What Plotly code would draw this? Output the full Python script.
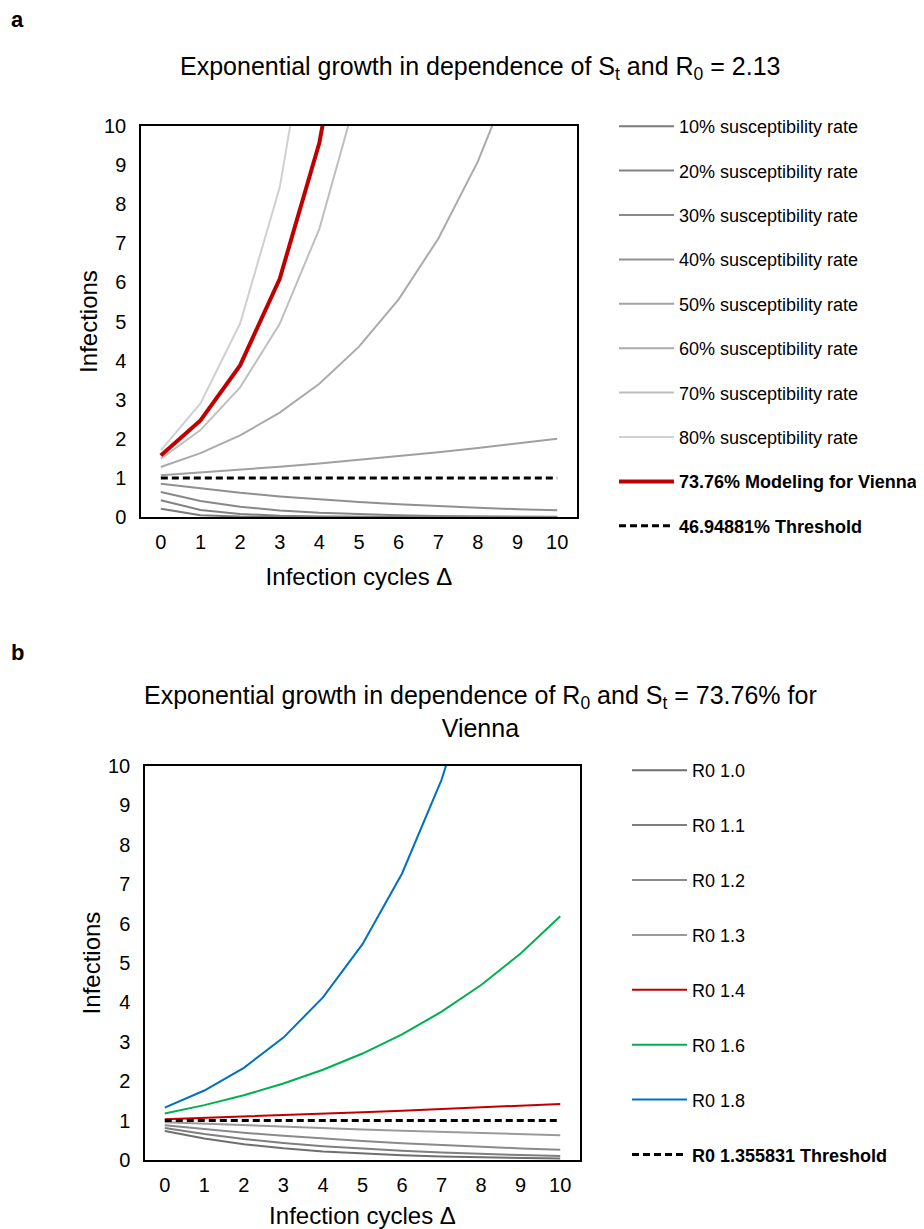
import plotly.graph_objects as go

# ---------------- data ----------------
cycles = [0, 1, 2, 3, 4, 5, 6, 7, 8, 9, 10]

# Panel a: susceptibility rates (R0 = 2.13)
sus_names = ["10% susceptibility rate", "20% susceptibility rate", "30% susceptibility rate",
             "40% susceptibility rate", "50% susceptibility rate", "60% susceptibility rate",
             "70% susceptibility rate", "80% susceptibility rate"]
sus_10 = [0.213, 0.045, 0.010, 0.002, 0.000, 0.000, 0.000, 0.000, 0.000, 0.000, 0.000]
sus_20 = [0.426, 0.181, 0.077, 0.033, 0.014, 0.006, 0.003, 0.001, 0.000, 0.000, 0.000]
sus_30 = [0.639, 0.408, 0.261, 0.167, 0.107, 0.068, 0.043, 0.028, 0.018, 0.011, 0.007]
sus_40 = [0.852, 0.726, 0.618, 0.527, 0.449, 0.382, 0.326, 0.278, 0.236, 0.201, 0.172]
sus_50 = [1.065, 1.134, 1.208, 1.287, 1.370, 1.459, 1.554, 1.655, 1.763, 1.877, 1.999]
sus_60 = [1.278, 1.633, 2.087, 2.668, 3.409, 4.357, 5.568, 7.116, 9.094, 11.62, 14.85]
sus_70 = [1.491, 2.223, 3.315, 4.942, 7.369, 10.99, 16.38, 24.42, 36.41, 54.30, 80.90]
sus_80 = [1.704, 2.904, 4.948, 8.431, 14.37, 24.48, 41.71, 71.08, 121.1, 206.4, 351.7]
vienna_a_name = "<b>73.76% Modeling for Vienna</b>"
vienna_a = [1.571, 2.468, 3.878, 6.093, 9.573, 15.04, 23.63, 37.12, 58.32, 91.63, 144.0]
thresh_a_name = "<b>46.94881% Threshold</b>"
thresh_a = [1, 1, 1, 1, 1, 1, 1, 1, 1, 1, 1]

# Panel b: R0 values (St = 73.76%)
r0_names = ["R0 1.0", "R0 1.1", "R0 1.2", "R0 1.3", "R0 1.4", "R0 1.6", "R0 1.8"]
r0_10 = [0.738, 0.544, 0.401, 0.296, 0.218, 0.161, 0.119, 0.088, 0.065, 0.048, 0.035]
r0_11 = [0.811, 0.658, 0.534, 0.433, 0.352, 0.285, 0.232, 0.188, 0.152, 0.124, 0.100]
r0_12 = [0.885, 0.783, 0.693, 0.614, 0.543, 0.481, 0.426, 0.377, 0.333, 0.295, 0.261]
r0_13 = [0.959, 0.919, 0.882, 0.845, 0.811, 0.777, 0.745, 0.715, 0.685, 0.657, 0.630]
r0_14 = [1.033, 1.066, 1.101, 1.137, 1.174, 1.212, 1.252, 1.293, 1.335, 1.378, 1.423]
r0_16 = [1.180, 1.393, 1.644, 1.940, 2.290, 2.702, 3.189, 3.764, 4.442, 5.243, 6.188]
r0_18 = [1.328, 1.763, 2.340, 3.107, 4.126, 5.478, 7.273, 9.656, 12.82, 17.02, 22.60]
thresh_b_name = "<b>R0 1.355831 Threshold</b>"
thresh_b = [1, 1, 1, 1, 1, 1, 1, 1, 1, 1, 1]

# ---------------- styling ----------------
FONT = "Liberation Sans, Arial, sans-serif"
W, H = 916, 1221  # page body adds an 8px offset
sus_colors = ["#7b7b7b", "#818181", "#888888", "#909090", "#a0a0a0", "#aaaaaa", "#bfbfbf", "#d0d0d0"]
r0_colors = ["#6f6f6f", "#7f7f7f", "#8a8a8a", "#9a9a9a", "#c00000", "#00b050", "#0070c0"]
DASH = "7px,4px"

fig = go.Figure()

sus_series = [sus_10, sus_20, sus_30, sus_40, sus_50, sus_60, sus_70, sus_80]
for i, (nm, ys) in enumerate(zip(sus_names, sus_series)):
    fig.add_trace(go.Scatter(x=cycles, y=ys, name=nm, mode="lines",
                             line=dict(color=sus_colors[i], width=2),
                             legend="legend", legendgroup="a%d" % i,
                             xaxis="x", yaxis="y"))
fig.add_trace(go.Scatter(x=cycles, y=vienna_a, name=vienna_a_name, mode="lines",
                         line=dict(color="#c00000", width=4),
                         legend="legend", legendgroup="a8", xaxis="x", yaxis="y"))
fig.add_trace(go.Scatter(x=cycles, y=thresh_a, name=thresh_a_name, mode="lines",
                         line=dict(color="#000000", width=3, dash=DASH),
                         legend="legend", legendgroup="a9", xaxis="x", yaxis="y"))

r0_series = [r0_10, r0_11, r0_12, r0_13, r0_14, r0_16, r0_18]
for i, (nm, ys) in enumerate(zip(r0_names, r0_series)):
    fig.add_trace(go.Scatter(x=cycles, y=ys, name=nm, mode="lines",
                             line=dict(color=r0_colors[i], width=2),
                             legend="legend2", legendgroup="b%d" % i,
                             xaxis="x2", yaxis="y2"))
fig.add_trace(go.Scatter(x=cycles, y=thresh_b, name=thresh_b_name, mode="lines",
                         line=dict(color="#000000", width=3, dash=DASH),
                         legend="legend2", legendgroup="b9", xaxis="x2", yaxis="y2"))

def px_x(p):
    return (p - 8) / W

def px_y(p):
    return 1 - (p - 8) / H

axis_common = dict(showline=True, linecolor="#000000", linewidth=1.5, mirror=True,
                   showgrid=False, zeroline=False, ticks="", fixedrange=True,
                   automargin=False,
                   tickfont=dict(family=FONT, size=20, color="#000000"),
                   title_font=dict(family=FONT, size=24, color="#000000"))

fig.update_layout(
    width=W, height=H,
    margin=dict(l=0, r=0, t=0, b=0, autoexpand=False),
    paper_bgcolor="white", plot_bgcolor="white",
    font=dict(family=FONT, color="#000000"),
    xaxis=dict(domain=[px_x(141), px_x(577)], range=[-0.5, 10.5], tickvals=cycles,
               anchor="y", ticklabelstandoff=6,
               title=dict(text="Infection cycles \u0394", standoff=16), **axis_common),
    yaxis=dict(domain=[px_y(517), px_y(126)], range=[0, 10], dtick=1, anchor="x",
               ticklabelstandoff=9,
               title=dict(text="Infections", standoff=0), **axis_common),
    xaxis2=dict(domain=[px_x(145), px_x(580)], range=[-0.5, 10.5], tickvals=cycles,
                anchor="y2", ticklabelstandoff=6,
                title=dict(text="Infection cycles \u0394", standoff=17), **axis_common),
    yaxis2=dict(domain=[px_y(1160), px_y(766)], range=[0, 10], dtick=1, anchor="x2",
                ticklabelstandoff=9,
                title=dict(text="Infections", standoff=1), **axis_common),
    legend=dict(x=px_x(614), y=px_y(108), xanchor="left", yanchor="top",
                font=dict(family=FONT, size=18, color="#000000"),
                tracegroupgap=18, itemwidth=55, bgcolor="rgba(0,0,0,0)",
                traceorder="grouped"),
    legend2=dict(x=px_x(627), y=px_y(752), xanchor="left", yanchor="top",
                 font=dict(family=FONT, size=18, color="#000000"),
                 tracegroupgap=28.5, itemwidth=55, bgcolor="rgba(0,0,0,0)",
                 traceorder="grouped"),
    annotations=[
        dict(text="<b>a</b>", x=px_x(9), y=px_y(20), xref="paper", yref="paper",
             xanchor="left", yanchor="middle", showarrow=False,
             font=dict(family=FONT, size=22, color="#000000")),
        dict(text="<b>b</b>", x=px_x(9), y=px_y(652), xref="paper", yref="paper",
             xanchor="left", yanchor="middle", showarrow=False,
             font=dict(family=FONT, size=22, color="#000000")),
        dict(text="Exponential growth in dependence of S<sub>t</sub> and R<sub>0</sub> = 2.13",
             x=px_x(480), y=px_y(68), xref="paper", yref="paper",
             xanchor="center", yanchor="middle", showarrow=False,
             font=dict(family=FONT, size=25, color="#000000")),
        dict(text="Exponential growth in dependence of R<sub>0</sub> and S<sub>t</sub> = 73.76% for<br>Vienna",
             x=px_x(480), y=px_y(711), xref="paper", yref="paper",
             xanchor="center", yanchor="middle", showarrow=False,
             font=dict(family=FONT, size=25, color="#000000")),
    ],
)

fig.write_html("out.html")
